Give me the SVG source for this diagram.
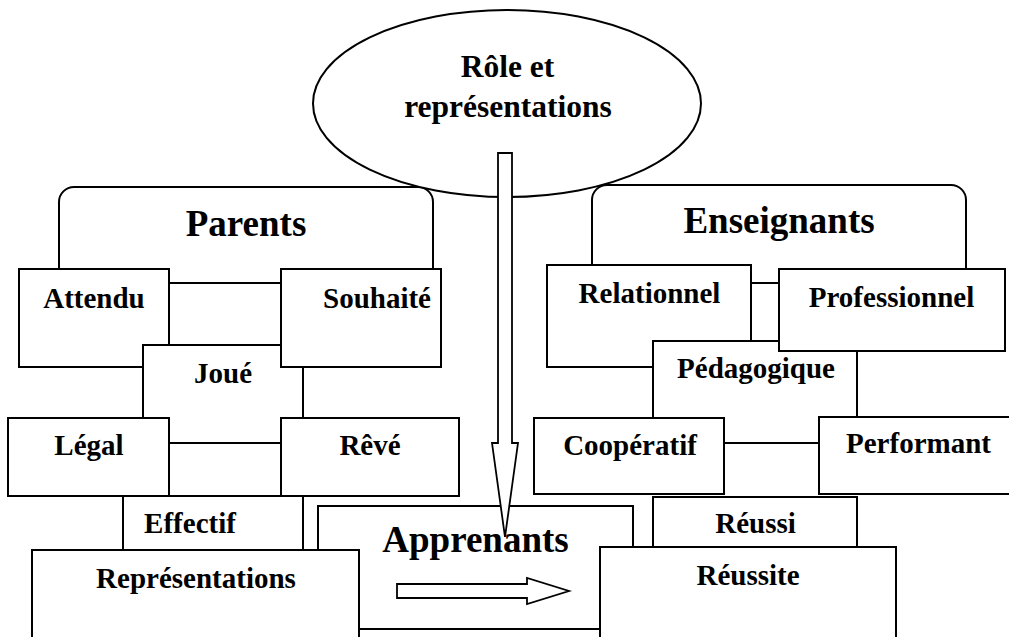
<svg xmlns="http://www.w3.org/2000/svg" width="1009" height="637" viewBox="0 0 1009 637">
  <style>
    .box { fill: #fff; stroke: #000; stroke-width: 2; }
    .arrow { fill: #fff; stroke: #000; stroke-width: 1.8; stroke-linejoin: miter; }
    text { font-family: "Liberation Serif", "Times New Roman", serif; font-weight: bold; fill: #000; text-anchor: middle; }
    .lbl { font-size: 29px; }
    .big { font-size: 37px; }
    .oval { font-size: 31.5px; }
  </style>
  <rect width="1009" height="637" fill="#fff"/>

  <!-- group headers -->
  <g id="parents">
    <rect class="box" x="59" y="187" width="374" height="96" rx="15"/>
    <text class="big" x="246" y="236">Parents</text>
  </g>
  <g id="enseignants">
    <rect class="box" x="592" y="185" width="374" height="98" rx="15"/>
    <text class="big" x="779" y="233">Enseignants</text>
  </g>

  <!-- central theme -->
  <g id="role">
    <ellipse class="box" cx="507" cy="103.5" rx="194" ry="93.5"/>
    <text class="oval" x="507.5" y="77">Rôle et</text>
    <text class="oval" x="508" y="117">représentations</text>
  </g>

  <!-- parents' roles -->
  <g id="attendu">
    <rect class="box" x="19" y="269" width="150" height="98"/>
    <text class="lbl" x="94" y="308">Attendu</text>
  </g>
  <g id="joue">
    <rect class="box" x="143" y="345" width="160" height="98"/>
    <text class="lbl" x="223" y="383">Joué</text>
  </g>
  <g id="souhaite">
    <rect class="box" x="281" y="269" width="160" height="98"/>
    <text class="lbl" x="377" y="308">Souhaité</text>
  </g>
  <g id="legal">
    <rect class="box" x="8" y="418" width="161" height="78"/>
    <text class="lbl" x="89" y="455">Légal</text>
  </g>
  <g id="reve">
    <rect class="box" x="281" y="418" width="178" height="78"/>
    <text class="lbl" x="370" y="455">Rêvé</text>
  </g>
  <g id="effectif">
    <rect class="box" x="123" y="496" width="180" height="80"/>
    <text class="lbl" x="190" y="533">Effectif</text>
  </g>

  <!-- teachers' roles -->
  <g id="relationnel">
    <rect class="box" x="547" y="265" width="204" height="102"/>
    <text class="lbl" x="649.5" y="303">Relationnel</text>
  </g>
  <g id="pedagogique">
    <rect class="box" x="653" y="341" width="204" height="102"/>
    <text class="lbl" x="756" y="378">Pédagogique</text>
  </g>
  <g id="professionnel">
    <rect class="box" x="779" y="269" width="226" height="82"/>
    <text class="lbl" x="891.5" y="307">Professionnel</text>
  </g>
  <g id="cooperatif">
    <rect class="box" x="534" y="418" width="190" height="76"/>
    <text class="lbl" x="630" y="455">Coopératif</text>
  </g>
  <g id="performant">
    <rect class="box" x="819" y="417" width="200" height="77"/>
    <text class="lbl" x="918.5" y="453">Performant</text>
  </g>
  <g id="reussi">
    <rect class="box" x="653" y="497" width="204" height="80"/>
    <text class="lbl" x="755.5" y="533">Réussi</text>
  </g>

  <!-- learners -->
  <g id="apprenants">
    <rect class="box" x="318" y="506" width="315" height="123"/>
    <text class="big" x="475.5" y="552">Apprenants</text>
  </g>
  <g id="representations">
    <rect class="box" x="32" y="550" width="327" height="110"/>
    <text class="lbl" x="196" y="588">Représentations</text>
  </g>
  <g id="reussite">
    <rect class="box" x="600" y="547" width="296" height="110"/>
    <text class="lbl" x="748" y="585">Réussite</text>
  </g>

  <!-- block arrows -->
  <g id="connectors">
    <polygon class="arrow" points="498,153 512,153 512,443 518,443 505,537 492,443 498,443"/>
    <polygon class="arrow" points="397,584 527,584 527,578 569,591 527,604 527,598 397,598"/>
  </g>
</svg>
